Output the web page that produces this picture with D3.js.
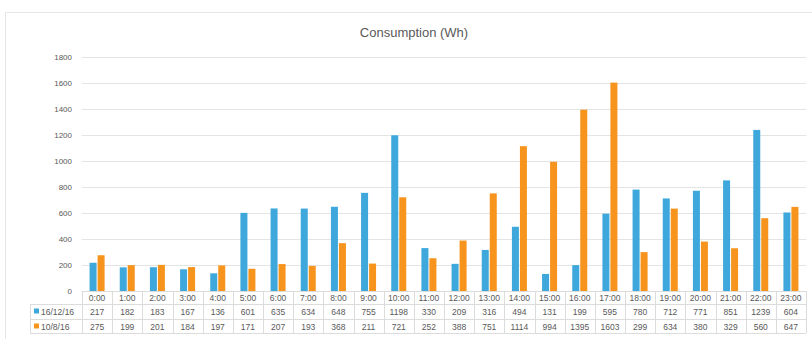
<!DOCTYPE html>
<html>
<head>
<meta charset="utf-8">
<script src="https://cdn.jsdelivr.net/npm/d3@7"></script>
<style>
  body { margin: 0; background: #fff; }
  text { font-family: 'Liberation Sans', sans-serif; fill: #595959; }
</style>
</head>
<body>
<script>
let w = 812;
let h = 339;

let hours = ['0:00', '1:00', '2:00', '3:00', '4:00', '5:00', '6:00', '7:00', '8:00', '9:00', '10:00', '11:00',
  '12:00', '13:00', '14:00', '15:00', '16:00', '17:00', '18:00', '19:00', '20:00', '21:00', '22:00', '23:00'];
let seriesNames = ['16/12/16', '10/8/16'];
let dec16 = [217, 182, 183, 167, 136, 601, 635, 634, 648, 755, 1198, 330, 209, 316, 494, 131, 199, 595, 780, 712, 771, 851, 1239, 604];
let aug10 = [275, 199, 201, 184, 197, 171, 207, 193, 368, 211, 721, 252, 388, 751, 1114, 994, 1395, 1603, 299, 634, 380, 329, 560, 647];
let yTicks = [0, 200, 400, 600, 800, 1000, 1200, 1400, 1600, 1800];
let colors = ['#3ea8dc', '#f7941d'];

let series = [dec16, aug10];

let plotLeft = 82;
let plotRight = 806;
let plotTop = 57;
let plotBottom = 291;

let xScale = d3.scaleBand()
  .domain(hours)
  .range([plotLeft, plotRight]);

let yScale = d3.scaleLinear()
  .domain([0, 1800])
  .range([plotBottom, plotTop]);

let svg = d3.select('body')
  .append('svg')
  .attr('width', w)
  .attr('height', h);

// outer frame
svg.append('rect')
  .attr('x', 5.5)
  .attr('y', 12.5)
  .attr('width', w)
  .attr('height', h)
  .attr('fill', 'none')
  .attr('stroke', '#e6e6e6');

svg.append('text')
  .attr('x', 414)
  .attr('y', 37)
  .attr('text-anchor', 'middle')
  .attr('font-size', '13px')
  .attr('fill', '#666')
  .text('Consumption (Wh)');

// gridlines
svg.append('g')
  .selectAll('line')
  .data(yTicks)
  .enter()
  .append('line')
  .attr('x1', plotLeft)
  .attr('x2', plotRight)
  .attr('y1', (d) => { return Math.round(yScale(d)) + 0.5; })
  .attr('y2', (d) => { return Math.round(yScale(d)) + 0.5; })
  .attr('stroke', '#e4e4e4');

let yAxis = d3.axisLeft()
  .scale(yScale)
  .tickValues(yTicks)
  .tickFormat(d3.format('d'))
  .tickSize(0)
  .tickPadding(10);

let gy = svg.append('g')
  .attr('transform', 'translate(' + plotLeft + ', 0)')
  .call(yAxis);
gy.select('.domain').remove();
gy.selectAll('text')
  .attr('font-size', '8px')
  .attr('fill', '#595959')
  .attr('font-family', "'Liberation Sans', sans-serif");

// bars
let barW = 7;
let gap = 1;
series.forEach((vals, si) => {
  svg.append('g')
    .selectAll('rect')
    .data(vals)
    .enter()
    .append('rect')
    .attr('x', (d, i) => {
      let c = xScale(hours[i]) + xScale.bandwidth() / 2;
      return si === 0 ? c - barW - gap / 2 : c + gap / 2;
    })
    .attr('y', (d) => { return yScale(d); })
    .attr('width', barW)
    .attr('height', (d) => { return plotBottom - yScale(d); })
    .attr('fill', colors[si]);
});

// data table
let rowH = [plotBottom, 304, 319, 333];
let tableLeft = 30;
let grid = svg.append('g').attr('stroke', '#dcdcdc').attr('fill', 'none');

grid.append('line').attr('x1', plotLeft).attr('x2', plotRight).attr('y1', rowH[0] + 0.5).attr('y2', rowH[0] + 0.5);
[1, 2, 3].forEach((r) => {
  grid.append('line')
    .attr('x1', tableLeft).attr('x2', plotRight)
    .attr('y1', rowH[r] + 0.5).attr('y2', rowH[r] + 0.5);
});
grid.append('line').attr('x1', tableLeft + 0.5).attr('x2', tableLeft + 0.5).attr('y1', rowH[1]).attr('y2', rowH[3]);
grid.selectAll('line.v')
  .data(hours.concat(['end']))
  .enter()
  .append('line')
  .attr('class', 'v')
  .attr('x1', (d, i) => { return Math.round(plotLeft + i * xScale.bandwidth()) + 0.5; })
  .attr('x2', (d, i) => { return Math.round(plotLeft + i * xScale.bandwidth()) + 0.5; })
  .attr('y1', rowH[0])
  .attr('y2', rowH[3]);

svg.append('g')
  .selectAll('text')
  .data(hours)
  .enter()
  .append('text')
  .attr('x', (d) => { return xScale(d) + xScale.bandwidth() / 2; })
  .attr('y', 301)
  .attr('text-anchor', 'middle')
  .attr('font-size', '8.5px')
  .text((d) => { return d; });

series.forEach((vals, si) => {
  let y = rowH[si + 1] + 10.5;
  svg.append('g')
    .selectAll('text')
    .data(vals)
    .enter()
    .append('text')
    .attr('x', (d, i) => { return xScale(hours[i]) + xScale.bandwidth() / 2; })
    .attr('y', y)
    .attr('text-anchor', 'middle')
    .attr('font-size', '8.5px')
    .text((d) => { return d; });

  svg.append('rect')
    .attr('x', 34)
    .attr('y', y - 6)
    .attr('width', 5)
    .attr('height', 5)
    .attr('fill', colors[si]);

  svg.append('text')
    .attr('x', 41)
    .attr('y', y)
    .attr('font-size', '8.5px')
    .text(seriesNames[si]);
});
</script>
</body>
</html>
